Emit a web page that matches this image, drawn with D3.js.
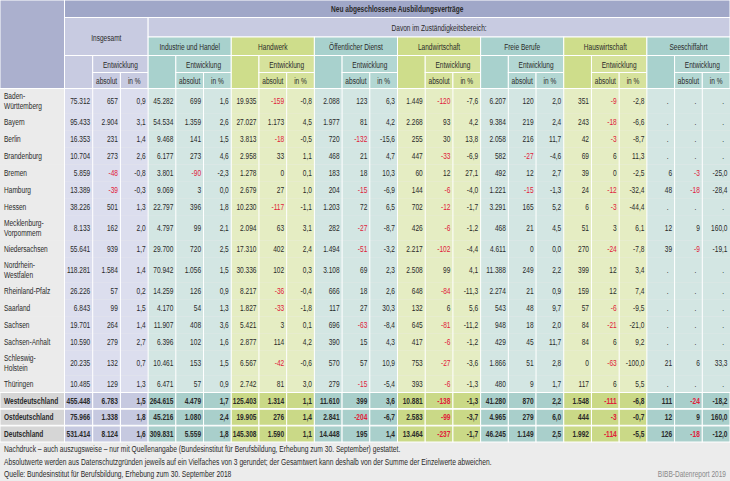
<!DOCTYPE html>
<html><head><meta charset="utf-8">
<script src="https://cdn.jsdelivr.net/npm/d3@7"></script>
<style>
html,body{margin:0;padding:0;background:#ececec;}
svg{display:block;font-family:'Liberation Sans',Arial,sans-serif;}
</style></head>
<body><svg id="chart" width="730" height="481"></svg>
<script>
// ---------- DATA ----------
const title = "Neu abgeschlossene Ausbildungsverträge";
const subTitle = "Davon im Zuständigkeitsbereich:";
const groups = ["Insgesamt","Industrie und Handel","Handwerk","Öffentlicher Dienst","Landwirtschaft","Freie Berufe","Hauswirtschaft","Seeschiffahrt"];
const subHeader = "Entwicklung";
const subCols = ["absolut","in %"];
const rows = ["Baden-\nWürttemberg","Bayern","Berlin","Brandenburg","Bremen","Hamburg","Hessen","Mecklenburg-\nVorpommern","Niedersachsen","Nordrhein-\nWestfalen","Rheinland-Pfalz","Saarland","Sachsen","Sachsen-Anhalt","Schleswig-\nHolstein","Thüringen","Westdeutschland","Ostdeutschland","Deutschland"];

const insgesamt = [[75312,657,0.9],[95433,2904,3.1],[16353,231,1.4],[10704,273,2.6],[5859,-48,-0.8],[13389,-39,-0.3],[38226,501,1.3],[8133,162,2.0],[55641,939,1.7],[118281,1584,1.4],[26226,57,0.2],[6843,99,1.5],[19701,264,1.4],[10590,279,2.7],[20235,132,0.7],[10485,129,1.3],[455448,6783,1.5],[75966,1338,1.8],[531414,8124,1.6]];
const industrieHandel = [[45282,699,1.6],[54534,1359,2.6],[9468,141,1.5],[6177,273,4.6],[3801,-90,-2.3],[9069,3,0.0],[22797,396,1.8],[4797,99,2.1],[29700,720,2.5],[70942,1056,1.5],[14259,126,0.9],[4170,54,1.3],[11907,408,3.6],[6396,102,1.6],[10461,153,1.5],[6471,57,0.9],[264615,4479,1.7],[45216,1080,2.4],[309831,5559,1.8]];
const handwerk = [[19935,-159,-0.8],[27027,1173,4.5],[3813,-18,-0.5],[2958,33,1.1],[1278,0,0.1],[2679,27,1.0],[10230,-117,-1.1],[2094,63,3.1],[17310,402,2.4],[30336,102,0.3],[8217,-36,-0.4],[1827,-33,-1.8],[5421,3,0.1],[2877,114,4.2],[6567,-42,-0.6],[2742,81,3.0],[125403,1314,1.1],[19905,276,1.4],[145308,1590,1.1]];
const oeffentlicherDienst = [[2088,123,6.3],[1977,81,4.2],[720,-132,-15.6],[468,21,4.7],[183,18,10.3],[204,-15,-6.9],[1203,72,6.5],[282,-27,-8.7],[1494,-51,-3.2],[3108,69,2.3],[666,18,2.6],[117,27,30.3],[696,-63,-8.4],[390,15,4.3],[570,57,10.9],[279,-15,-5.4],[11610,399,3.6],[2841,-204,-6.7],[14448,195,1.4]];
const landwirtschaft = [[1449,-120,-7.6],[2268,93,4.2],[255,30,13.8],[447,-33,-6.9],[60,12,27.1],[144,-6,-4.0],[702,-12,-1.7],[426,-6,-1.2],[2217,-102,-4.4],[2508,99,4.1],[648,-84,-11.3],[132,6,5.6],[645,-81,-11.2],[417,-6,-1.2],[753,-27,-3.6],[393,-6,-1.3],[10881,-138,-1.3],[2583,-99,-3.7],[13464,-237,-1.7]];
const freieBerufe = [[6207,120,2.0],[9384,219,2.4],[2058,216,11.7],[582,-27,-4.6],[492,12,2.7],[1221,-15,-1.3],[3291,165,5.2],[468,21,4.5],[4611,0,0.0],[11388,249,2.2],[2274,21,0.9],[543,48,9.7],[948,18,2.0],[429,45,11.7],[1866,51,2.8],[480,9,1.7],[41280,870,2.2],[4965,279,6.0],[46245,1149,2.5]];
const hauswirtschaft = [[351,-9,-2.8],[243,-18,-6.6],[42,-3,-8.7],[69,6,11.3],[39,0,-2.5],[24,-12,-32.4],[6,-3,-44.4],[51,3,6.1],[270,-24,-7.8],[399,12,3.4],[159,12,7.4],[57,-6,-9.5],[84,-21,-21.0],[84,6,9.2],[0,-63,-100.0],[117,6,5.5],[1548,-111,-6.8],[444,-3,-0.7],[1992,-114,-5.5]];
const seeschiffahrt = [[null,null,null],[null,null,null],[null,null,null],[null,null,null],[6,-3,-25.0],[48,-18,-28.4],[null,null,null],[12,9,160.0],[39,-9,-19.1],[null,null,null],[null,null,null],[null,null,null],[null,null,null],[null,null,null],[21,6,33.3],[null,null,null],[111,-24,-18.2],[12,9,160.0],[126,-18,-12.0]];
const groupValues = [insgesamt,industrieHandel,handwerk,oeffentlicherDienst,landwirtschaft,freieBerufe,hauswirtschaft,seeschiffahrt];

const footnotes = [
 "Nachdruck – auch auszugsweise – nur mit Quellenangabe (Bundesinstitut für Berufsbildung, Erhebung zum 30. September) gestattet.",
 "Absolutwerte werden aus Datenschutzgründen jeweils auf ein Vielfaches von 3 gerundet; der Gesamtwert kann deshalb von der Summe der Einzelwerte abweichen.",
 "Quelle: Bundesinstitut für Berufsbildung, Erhebung zum 30. September 2018"
];
const credit = "BIBB-Datenreport 2019";

// ---------- STYLE ----------
const C = {
  bg:"#ececec", topBar:"#a0a7c8", corner:"#abb0ce", lavHead:"#c8cbe1",
  tealHead:"#a8d1cd", greenHead:"#cedd8b", tealSub:"#b3d7d3", greenSub:"#d6e29c",
  lavBody:"#dcdeee", tealBody:"#d3e6e3", greenBody:"#e5edc3", labelBody:"#ebebeb",
  lavSum:"#c6c9e0", tealSum:"#a9cfcb", greenSum:"#cad987", labelSum:"#d6d6d6",
  text:"#2a2a2a", red:"#e0203a"
};
const SX = 0.73; // horizontal condensing of the type
const FS = 9;
const loc = d3.formatLocale({decimal:",",thousands:".",grouping:[3],currency:["","€"],minus:"-"});
const fInt = loc.format(",d"), fPct = loc.format(",.1f");

const svg = d3.select("#chart");
svg.append("rect").attr("width",730).attr("height",481).attr("fill",C.bg);

function T(parent, str, px, py, anchor, opts){
  opts = opts||{};
  return parent.append("text")
    .attr("transform",`translate(${px},${py}) scale(${opts.sx||SX},1)`)
    .attr("dy",opts.dy||"0.35em").attr("text-anchor",anchor||"start")
    .attr("font-size",opts.size||FS).attr("font-weight",opts.bold?"bold":"normal")
    .attr("fill",opts.fill||C.text).text(str);
}

const x = d3.scaleBand().domain(d3.range(24)).range([65,730]).padding(0);
const bw = x.bandwidth();
const labelW = 64.5;

const hy = {r1:[0,17.5],r2:[17.5,37],r3:[37,55.5],r4:[55.5,72.5],r5:[72.5,88.5]};

function gcol(g, kind){
  if(g===0) return kind==="body"?C.lavBody:kind==="sum"?C.lavSum:C.lavHead;
  const teal = g%2===1;
  if(kind==="head") return teal?C.tealHead:C.greenHead;
  if(kind==="sub") return teal?C.tealSub:C.greenSub;
  if(kind==="body") return teal?C.tealBody:C.greenBody;
  return teal?C.tealSum:C.greenSum;
}
const hdr = svg.append("g");
function cell(x0,y0,x1,y1,fill){
  hdr.append("rect").attr("x",x0).attr("y",y0).attr("width",x1-x0).attr("height",y1-y0)
    .attr("fill",fill).attr("stroke","#fff").attr("stroke-width",1);
}
cell(0,0,labelW,88.5,C.corner);
cell(labelW,hy.r1[0],730,hy.r1[1],C.topBar);
T(hdr,title,(labelW+730)/2,9,"middle",{bold:true});
cell(labelW,hy.r2[0],x(3),hy.r3[1],C.lavHead);
T(hdr,groups[0],(labelW+x(3))/2,37.5,"middle");
cell(x(3),hy.r2[0],730,hy.r2[1],C.lavHead);
T(hdr,subTitle,(x(3)+730)/2,27.5,"middle");
groups.forEach((g,i)=>{
  const x0=x(i*3), x1=x(i*3+2)+bw;
  if(i>0){ cell(x0,hy.r3[0],x1,hy.r3[1],gcol(i,"head")); T(hdr,g,(x0+x1)/2,46.5,"middle"); }
  cell(i===0?labelW:x0,hy.r4[0],x(i*3+1),hy.r5[1],gcol(i,"head"));
  cell(x(i*3+1),hy.r4[0],x1,hy.r4[1],gcol(i,"sub"));
  T(hdr,subHeader,(x(i*3+1)+x1)/2,64.5,"middle");
  subCols.forEach((s,k)=>{
    const sx=x(i*3+1+k);
    cell(sx,hy.r5[0],sx+bw,hy.r5[1],gcol(i,"sub"));
    T(hdr,s,sx+bw/2,81,"middle");
  });
});

// ---------- BODY ----------
const nStates = 16;
const weights = rows.slice(0,nStates).map(r=>r.includes("\n")?1.45:1);
const cum = [0]; weights.forEach(w=>cum.push(cum[cum.length-1]+w));
const yS = d3.scaleLinear().domain([0,cum[cum.length-1]]).range([88.5,392.5]);
const ySum = d3.scaleBand().domain(rows.slice(nStates)).range([392.5,442]).paddingInner(0.04);

const body = svg.append("g");
rows.forEach((r,ri)=>{
  const isSum = ri>=nStates;
  const y0 = isSum? ySum(r) : yS(cum[ri]);
  const y1 = isSum? ySum(r)+ySum.bandwidth() : yS(cum[ri+1]);
  const cy = (y0+y1)/2;
  const g = body.append("g");
  const stroke = isSum? "#fff" : "none";
  g.append("rect").attr("x",0).attr("y",y0).attr("width",labelW).attr("height",y1-y0)
    .attr("fill",isSum?C.labelSum:C.labelBody).attr("stroke",stroke).attr("stroke-width",1);
  const lines = r.split("\n");
  lines.forEach((l,li)=>{
    T(g,l,4,cy+(li-(lines.length-1)/2)*10,"start",{bold:isSum});
  });
  groupValues.forEach((vals,gi)=>{
    const v = vals[ri];
    for(let k=0;k<3;k++){
      const cx0 = (gi===0&&k===0)?labelW:x(gi*3+k);
      g.append("rect").attr("x",cx0).attr("y",y0).attr("width",x(gi*3+k)+bw-cx0).attr("height",y1-y0)
        .attr("fill",gcol(gi,isSum?"sum":"body")).attr("stroke",stroke).attr("stroke-width",1);
      const val = v[k];
      const txt = val===null? "." : (k===2? fPct(val) : fInt(val));
      T(g,txt,x(gi*3+k)+bw-(val===null?6:2.5),cy,"end",
        {bold:isSum, fill:(k===1&&val!==null&&val<0)?C.red:C.text});
    }
  });
});
const seps = [labelW].concat(d3.range(1,24).map(i=>x(i)));
body.selectAll("line.sep").data(seps).join("line").attr("class","sep")
  .attr("x1",d=>d).attr("x2",d=>d).attr("y1",88.5).attr("y2",392.5)
  .attr("stroke","#fff").attr("stroke-width",1);
body.append("line").attr("x1",0).attr("x2",730).attr("y1",88.5).attr("y2",88.5).attr("stroke","#fff");

// ---------- FOOTER ----------
const ft = svg.append("g");
footnotes.forEach((f,i)=>{
  T(ft,f,4,452+i*12.5,"start",{dy:"0",sx:0.745});
});
T(ft,credit,726,477,"end",{dy:"0",fill:"#8a8a8a"});
</script>
</body></html>
